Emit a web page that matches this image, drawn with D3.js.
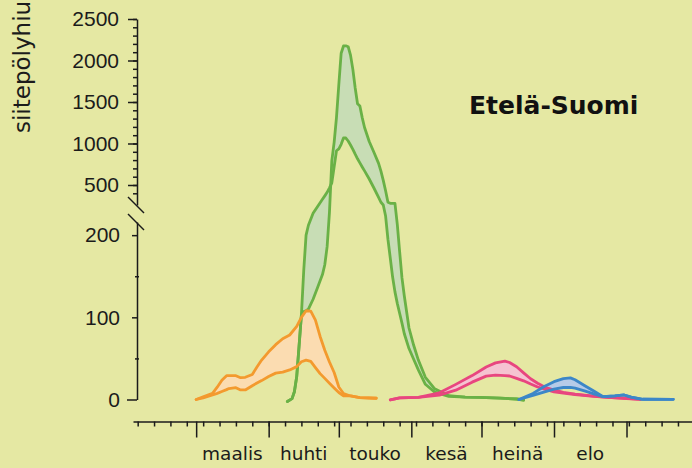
<!DOCTYPE html>
<html>
<head>
<meta charset="utf-8">
<script src="https://cdn.jsdelivr.net/npm/d3@7"></script>
<style>
  html, body { margin: 0; padding: 0; background: #e5e8a3; }
  svg { display: block; }
</style>
</head>
<body>
<div id="chart"></div>
<script>
// axis labels
const monthNames = ["maalis", "huhti", "touko", "kesä", "heinä", "elo"];
const monthStarts = ["03-01", "04-01", "05-01", "06-01", "07-01", "08-01", "09-01"];
const upperTicks = [500, 1000, 1500, 2000, 2500];
const lowerTicks = [0, 100, 200];

// orange band (early spring)
const orangeDates = ["03-01","03-04","03-08","03-10","03-12","03-14","03-15","03-18","03-20","03-22","03-25","03-27","03-29",
  "04-01","04-04","04-07","04-10","04-13","04-15","04-17","04-19","04-21","04-23","04-25","04-27","04-29",
  "05-01","05-03","05-06","05-10","05-17"];
const orangeA = [0,2,5.5,7.5,9.7,12,13.3,14.4,11.6,11.6,16.8,20,23,
  27.9,32.1,33.4,36,40,46,48,46.4,38.9,31.5,25.7,19.9,14.1,
  8.5,4.5,4.3,2.4,1.5];
const orangeB = [0,3.2,7.5,15,23.4,29,29,29,26.5,27,30.5,39.5,48,
  58,66.7,74,78.5,89,100,108,107.5,96.7,76.7,60,45.6,32.9,
  15.2,7.3,4.3,2.4,1.5];

// green band (birch)
const greenDates = ["04-09","04-11","04-12","04-13","04-14","04-15","04-16","04-17","04-18","04-20","04-22","04-24",
  "04-25","04-26","04-27","04-28","04-29","04-30","05-01","05-02","05-03","05-04","05-05","05-06","05-07","05-08",
  "05-09","05-10","05-11","05-12","05-14","05-16","05-18","05-19","05-20","05-21","05-22","05-23","05-24","05-25",
  "05-26","05-27","05-28","05-29","05-31","06-02","06-04","06-07","06-11","06-17","06-24","06-30","07-09","07-16","07-19"];
const greenA = [-2.5,1,9.5,28,65,103,157,200,212,238,256,328,
  369,412,466,525,719,913,936,990,1066,1066,1030,982,930,871,
  816,766,717,670,572,464,350,292,259,231,195,172,149,131,
  117,105,93,80,62,49,36,18.5,9,3.8,3,2.7,1.6,0.6,-0.6];
const greenB = [-2.5,1,9.5,28,65,103,107,108,110,122,137,152,
  164,186,241,790,1014,1316,1711,2088,2175,2177,2166,2065,1893,1669,
  1479,1452,1312,1193,1024,895,761,667,556,431,292,279,279,279,
  213,180,148,126,87,66,48,27,13,4.7,3,2.7,1.6,0.6,-0.6];

// pink band (grasses)
const pinkDates = ["05-23","05-27","06-04","06-13","06-20","06-27","07-03","07-07","07-11","07-13","07-16","07-19",
  "07-22","07-25","07-28","08-01","08-05","08-10","08-18","08-24","09-01","09-07"];
const pinkA = [-0.5,2,2.6,5.4,11.3,21.1,28.4,29.7,29.1,28.6,25.7,22.7,
  18.8,15.2,12.6,9.3,7.8,6.1,3.7,2.5,1.2,0.2];
const pinkB = [-0.5,2,2.6,8.1,18.4,29.1,39.6,44.6,46.8,45,39.9,32.4,
  25.2,19.8,15.1,11.6,8.8,6.5,4,2.6,1.5,0.2];

// blue band (mugwort)
const blueDates = ["07-17","07-23","07-28","08-01","08-05","08-08","08-10","08-14","08-18","08-22","08-27","08-31",
  "09-03","09-08","09-21"];
const blueA = [0,5,9.3,12.6,14.6,14.8,13.9,10.5,6.9,3.4,4.3,5.5,3,0.3,0.2];
const blueB = [0,7.4,16.2,21.7,25.4,26.3,24,17.1,10.3,3.4,4.3,5.5,3,0.3,0.2];

const parse = d3.timeParse("%m-%d");

const series = [
  {dates: orangeDates, a: orangeA, b: orangeB, stroke: "#f39a2e", fill: "#fbdcb1"},
  {dates: greenDates, a: greenA, b: greenB, stroke: "#6ab146", fill: "#c8ddb5"},
  {dates: pinkDates, a: pinkA, b: pinkB, stroke: "#e8467f", fill: "#f5c3d1"},
  {dates: blueDates, a: blueA, b: blueB, stroke: "#3c87c8", fill: "#b6cbe8"}
].map(s => ({...s, rows: s.dates.map((d, i) => ({date: parse(d), a: s.a[i], b: s.b[i]}))}));

const width = 692, height = 468;
const ink = "#1b1b1b";

const svg = d3.select("#chart")
  .append("svg")
  .attr("width", width)
  .attr("height", height);

svg.append("rect").attr("width", width).attr("height", height).attr("fill", "#e5e8a3");

// scales: broken y axis -> two pieces + a combined polylinear scale for the data
const x = d3.scaleTime().domain([parse("02-02"), parse("09-29")]).range([133, 692]);
const yLow = d3.scaleLinear().domain([0, 216]).range([399.5, 222]);
const yHigh = d3.scaleLinear().domain([259, 2500]).range([205, 19]);
const y = d3.scaleLinear().domain([0, 216, 259, 2500]).range([399.5, 222, 205, 19]);

const axisX = 137;

// bands
const area = d3.area()
  .x(d => x(d.date))
  .y0(d => y(d.a))
  .y1(d => y(d.b));
const lineA = d3.line().x(d => x(d.date)).y(d => y(d.a));
const lineB = d3.line().x(d => x(d.date)).y(d => y(d.b));

series.forEach(s => {
  svg.append("path").datum(s.rows).attr("d", area).attr("fill", s.fill);
});
[series[1], series[0], series[2], series[3]].forEach(s => {
  [lineA, lineB].forEach(l => {
    svg.append("path").datum(s.rows)
      .attr("d", l)
      .attr("fill", "none")
      .attr("stroke", s.stroke)
      .attr("stroke-width", 2.8)
      .attr("stroke-linejoin", "round")
      .attr("stroke-linecap", "round");
  });
});

function styleAxis(g) {
  g.selectAll("path, line").attr("stroke", ink).attr("stroke-width", 1.5);
  g.selectAll("text")
    .attr("fill", ink)
    .style("font-family", "'Liberation Sans', Arial, sans-serif")
    .style("font-size", "21px");
}

// upper y axis
svg.append("g")
  .attr("transform", `translate(${axisX},0)`)
  .call(d3.axisLeft(yHigh).tickValues(d3.range(400, 2501, 100)).tickSize(4).tickSizeOuter(0).tickFormat(""))
  .call(styleAxis);
svg.append("g")
  .attr("transform", `translate(${axisX},0)`)
  .call(d3.axisLeft(yHigh).tickValues(upperTicks).tickSize(9).tickSizeOuter(0).tickPadding(9).tickFormat(d3.format("d")))
  .call(styleAxis)
  .call(g => g.select(".domain").remove());

// lower y axis
svg.append("g")
  .attr("transform", `translate(${axisX},0)`)
  .call(d3.axisLeft(yLow).tickValues([50, 150]).tickSize(2).tickSizeOuter(0).tickFormat(""))
  .call(styleAxis)
  .call(g => g.selectAll(".tick line").attr("x1", 2));
svg.append("g")
  .attr("transform", `translate(${axisX},0)`)
  .call(d3.axisLeft(yLow).tickValues(lowerTicks).tickSize(5).tickSizeOuter(0).tickPadding(12).tickFormat(d3.format("d")))
  .call(styleAxis)
  .call(g => g.select(".domain").remove())
  .call(g => g.selectAll(".tick line").attr("x2", d => d === 0 ? -10 : -5));

// break marks
[[197, 213], [214, 230]].forEach(([y0, y1]) => {
  svg.append("line")
    .attr("x1", 128).attr("y1", y0)
    .attr("x2", 144).attr("y2", y1)
    .attr("stroke", ink).attr("stroke-width", 1.5);
});

// x axis
svg.append("g")
  .attr("transform", "translate(0,421.5)")
  .call(d3.axisBottom(x).tickValues(d3.timeDay.range(parse("02-04"), parse("09-30"), 7)).tickSize(5).tickSizeOuter(0).tickFormat(""))
  .call(styleAxis);
svg.append("g")
  .attr("transform", "translate(0,421.5)")
  .call(d3.axisBottom(x).tickValues(monthStarts.map(parse)).tickSize(16).tickSizeOuter(0).tickFormat(""))
  .call(styleAxis)
  .call(g => g.select(".domain").remove());

svg.append("g").selectAll("text")
  .data(monthNames)
  .enter()
  .append("text")
  .attr("x", (d, i) => x(new Date((+parse(monthStarts[i]) + +parse(monthStarts[i + 1])) / 2)))
  .attr("y", 460)
  .attr("text-anchor", "middle")
  .attr("fill", ink)
  .style("font-family", "'DejaVu Sans', sans-serif")
  .style("font-size", "18.5px")
  .text(d => d);

// title
svg.append("text")
  .attr("x", 469)
  .attr("y", 114)
  .attr("fill", "#111")
  .style("font-family", "'DejaVu Sans', sans-serif")
  .style("font-weight", "bold")
  .style("font-size", "25px")
  .text("Etelä-Suomi");

// y label (runs off the top like in the original)
svg.append("text")
  .attr("transform", "translate(30,133) rotate(-90)")
  .attr("fill", ink)
  .style("font-family", "'DejaVu Sans', sans-serif")
  .style("font-size", "23px")
  .text("siitepölyhiukkasia / m³");
</script>
</body>
</html>
